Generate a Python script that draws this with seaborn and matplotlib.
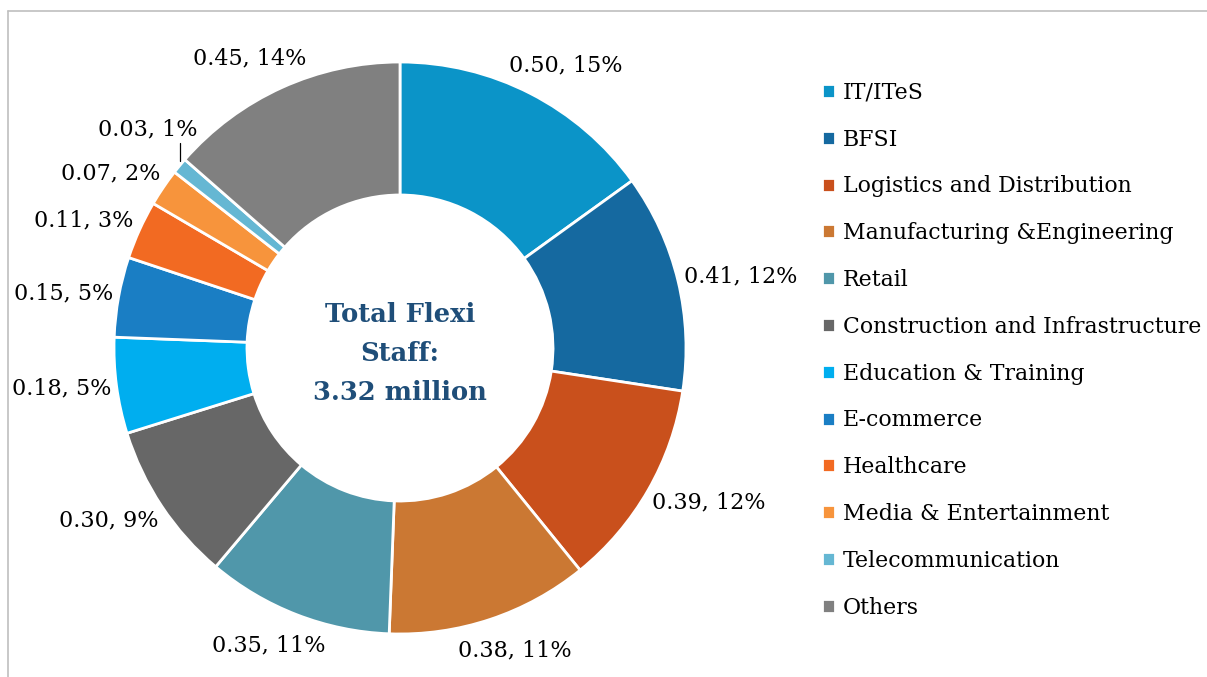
import matplotlib
matplotlib.use("Agg")
import matplotlib.pyplot as plt
import numpy as np
import seaborn as sns
from matplotlib.lines import Line2D

# Flexi staff by sector (million)
sectors = ["IT/ITeS", "BFSI", "Logistics and Distribution", "Manufacturing &Engineering",
           "Retail", "Construction and Infrastructure", "Education & Training", "E-commerce",
           "Healthcare", "Media & Entertainment", "Telecommunication", "Others"]
staff = [0.50, 0.41, 0.39, 0.38, 0.35, 0.30, 0.18, 0.15, 0.11, 0.07, 0.03, 0.45]
sector_colors = ["#0B94C8", "#1569A0", "#C9501C", "#CB7833", "#5097AA", "#676767",
                 "#00AEEF", "#1A7EC4", "#F26A22", "#F7943C", "#65B7D3", "#808080"]
center_text = "Total Flexi\nStaff:\n3.32 million"

sns.set_theme(style="white")
plt.rcParams["font.family"] = ["DejaVu Serif"]
plt.rcParams["text.color"] = "black"

W, H = 1207, 677
fig = plt.figure(figsize=(W / 100, H / 100), dpi=100)

# donut: center (400, 348) px, outer radius 286 px
R_px, cx, cy = 286, 400, 348
lim = 1.3
size = 2 * lim * R_px
ax = fig.add_axes([(cx - size / 2) / W, (H - cy - size / 2) / H, size / W, size / H])

total = sum(staff)
palette = sns.color_palette(sector_colors)
wedges, _, autotexts = ax.pie(
    staff, colors=palette, startangle=90, counterclock=False, radius=1.0,
    wedgeprops=dict(width=0.465, edgecolor="white", linewidth=2),
    autopct=lambda p: f"{p * total / 100:.2f}, {p:.0f}%", pctdistance=1.16,
    textprops=dict(fontsize=16, color="black"))

ax.set_xlim(-lim, lim)
ax.set_ylim(-lim, lim)
ax.set_aspect("equal")
ax.axis("off")

# place labels just outside the ring ("outside end"), allowing for text size
renderer = fig.canvas.get_renderer()
for w, v, t in zip(wedges, staff, autotexts):
    th = np.deg2rad((w.theta1 + w.theta2) / 2)
    c, s = np.cos(th), np.sin(th)
    bb = t.get_window_extent(renderer)
    tw, thh = bb.width / R_px, bb.height / R_px
    if v / total < 0.015:
        # thin slice: label lifted above a short leader line
        ax.plot([c, c], [s + 0.015, s + 0.08], color="black", lw=0.9)
        t.set_position((c - 0.32 * tw, s + 0.09 + thh / 2))
    else:
        pad = 0.01 + 0.07 * abs(s)
        t.set_position(((1 + pad) * c + tw / 2 * c, (1 + pad) * s + thh / 2 * s))

ax.text(0, -0.02, center_text, ha="center", va="center", fontsize=18.5,
        fontweight="bold", color="#1F4E79", linespacing=1.7)

leg = ax.legend(wedges, sectors, loc="upper left",
                bbox_to_anchor=(813 / W, 1 - 73 / H), bbox_transform=fig.transFigure,
                frameon=False, fontsize=15.8, handlelength=0.6, handleheight=0.6,
                handletextpad=0.35, labelspacing=1.13, borderaxespad=0,
                labelcolor="black")

# chart-area border (left and top visible)
bc = "#BFBFBF"
fig.add_artist(Line2D([8 / W, 8 / W], [0, 1 - 11 / H], color=bc, lw=1.2))
fig.add_artist(Line2D([8 / W, 1], [1 - 11 / H, 1 - 11 / H], color=bc, lw=1.2))

fig.savefig("out.png", dpi=100, facecolor="white")
